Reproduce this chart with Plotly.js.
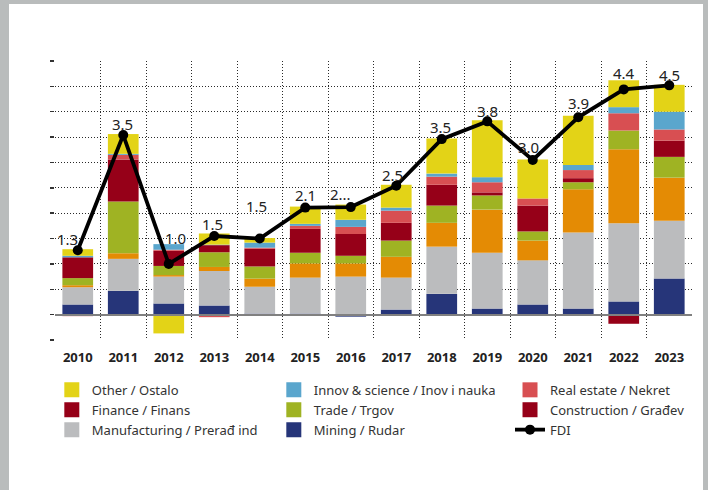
<!DOCTYPE html>
<html>
<head>
<meta charset="utf-8">
<script src="https://cdn.plot.ly/plotly-3.0.1.min.js"></script>
<style>
  html, body { margin: 0; padding: 0; background: #ffffff; }
  #wrap { position: absolute; left: 0; top: 0; width: 694px; height: 486px;
          border-left: 9px solid #b9bcbc; border-top: 4px solid #b9bcbc; border-right: 5px solid #b9bcbc; }
  #chart { width: 694px; height: 486px; }
</style>
</head>
<body>
<div id="wrap"><div id="chart"></div></div>
<script>
// ---- data (EUR bn) ----
const years = ["2010","2011","2012","2013","2014","2015","2016","2017","2018","2019","2020","2021","2022","2023"];
const mining        = [0.20, 0.47, 0.22, 0.18, 0.02, 0.02, -0.04, 0.10, 0.41, 0.12, 0.20, 0.12, 0.26, 0.71];
const manufacturing = [0.34, 0.63, 0.53, 0.68, 0.53, 0.71, 0.75, 0.63, 0.93, 1.10, 0.87, 1.50, 1.54, 1.14];
const construction  = [0.04, 0.11, 0.03, 0.08, 0.16, 0.28, 0.26, 0.41, 0.47, 0.85, 0.39, 0.85, 1.46, 0.85];
const trade         = [0.14, 1.02, 0.18, 0.29, 0.24, 0.21, 0.15, 0.32, 0.34, 0.28, 0.18, 0.14, 0.37, 0.41];
const finance       = [0.41, 0.83, 0.30, 0.14, 0.35, 0.47, 0.43, 0.35, 0.41, 0.06, 0.51, 0.08, -0.18, 0.32];
const realEstate    = [-0.03, 0.09, 0.02, -0.05, 0.02, 0.06, 0.14, 0.24, 0.16, 0.20, 0.14, 0.16, 0.34, 0.22];
const innov         = [0.03, 0.02, 0.11, 0.01, 0.10, 0.04, 0.14, 0.06, 0.06, 0.10, 0.00, 0.10, 0.12, 0.35];
const other         = [0.13, 0.39, -0.37, 0.22, 0.09, 0.34, 0.30, 0.45, 0.69, 1.12, 0.77, 0.97, 0.53, 0.53];
const fdi           = [1.27, 3.54, 1.00, 1.55, 1.50, 2.11, 2.12, 2.54, 3.46, 3.81, 3.05, 3.89, 4.44, 4.52];
const fdiLabels     = ["1.3","3.5","1.0","1.5","1.5","2.1","2...","2.5","3.5","3.8","3.0","3.9","4.4","4.5"];

// label placement offsets in pixels (style only)
const labelDx = [-10, -1, 7, -2, -3, 0, -10, -4, -1, 0, -4, 0, 0, 0];
const labelDy = [11, 11, 26, 12, 33, 13, 13, 11, 12, 10, 13, 14, 16, 10];

const FONT = "Noto Sans, Open Sans, sans-serif";

const barSeries = [
  {name: "Mining / Rudar",              y: mining,        color: "#263579"},
  {name: "Manufacturing / Prerađ ind",  y: manufacturing, color: "#bbbcbe"},
  {name: "Construction / Građev",       y: construction,  color: "#e48b04"},
  {name: "Trade / Trgov",               y: trade,         color: "#9fb323"},
  {name: "Finance / Finans",            y: finance,       color: "#960018"},
  {name: "Real estate / Nekret",        y: realEstate,    color: "#d84f52"},
  {name: "Innov & science / Inov i nauka", y: innov,      color: "#5aa6cd"},
  {name: "Other / Ostalo",              y: other,         color: "#e3d317"}
];

const traces = barSeries.map(s => ({
  type: "bar", x: years, y: s.y, name: s.name, showlegend: false,
  marker: {color: s.color, line: {width: 0}}, hoverinfo: "x+y+name"
}));

// legend swatches (as shown in the reference legend)
const legendItems = [
  {name: "Other / Ostalo", color: "#e3d317", legend: "legend"},
  {name: "Finance / Finans", color: "#960018", legend: "legend"},
  {name: "Manufacturing / Prerađ ind", color: "#bbbcbe", legend: "legend"},
  {name: "Innov & science / Inov i nauka", color: "#5aa6cd", legend: "legend2"},
  {name: "Trade / Trgov", color: "#9fb323", legend: "legend2"},
  {name: "Mining / Rudar", color: "#263579", legend: "legend2"},
  {name: "Real estate / Nekret", color: "#d84f52", legend: "legend3"},
  {name: "Construction / Građev", color: "#960018", legend: "legend3"}
];
legendItems.forEach(it => traces.push({
  type: "scatter", mode: "markers", x: [null], y: [null], name: it.name, legend: it.legend,
  marker: {symbol: "square", size: 15, color: it.color}, hoverinfo: "skip"
}));

traces.push({
  type: "scatter", mode: "lines+markers", x: years, y: fdi, name: "FDI", legend: "legend3",
  line: {color: "#000", width: 3.8}, marker: {color: "#000", size: 10},
  cliponaxis: false
});

// labels for the FDI points: x given as category index
const annotations = years.map((yr, i) => ({
  x: i, y: fdi[i], xref: "x", yref: "y", text: fdiLabels[i], showarrow: false,
  xanchor: "center", yanchor: "middle", xshift: labelDx[i], yshift: labelDy[i],
  font: {family: FONT, size: 15, color: "#222"}
}));

const legendBase = {
  orientation: "v", xanchor: "left", yanchor: "top", y: -0.125,
  font: {family: FONT, size: 13, color: "#333"}, bgcolor: "rgba(0,0,0,0)",
  tracegroupgap: 0, itemsizing: "trace", itemclick: false, itemdoubleclick: false
};

const layout = {
  width: 694, height: 486,
  margin: {l: 46, r: 11, t: 57, b: 150, autoexpand: false},
  paper_bgcolor: "#ffffff", plot_bgcolor: "#ffffff",
  barmode: "relative", bargap: 0.325,
  font: {family: FONT, color: "#222"},
  annotations: annotations,
  xaxis: {
    type: "category", categoryorder: "array", categoryarray: years,
    range: [-0.5, years.length - 0.5], autorange: false,
    tickson: "boundaries", showgrid: true,
    gridcolor: "#2a2a2a", griddash: "1px,2px", gridwidth: 1,
    ticks: "", showline: false, zeroline: false, ticklabelstandoff: 8,
    tickfont: {family: FONT, size: 13, color: "#222", weight: "bold"},
    fixedrange: true
  },
  yaxis: {
    range: [-0.5, 5.0], autorange: false, tick0: 0, dtick: 0.5, showticklabels: false,
    showgrid: true, gridcolor: "#2a2a2a", griddash: "1px,2px", gridwidth: 1,
    ticks: "outside", ticklen: 4, tickwidth: 1.5, tickcolor: "#333",
    zeroline: true, zerolinecolor: "#808080", zerolinewidth: 2, zerolinelayer: "above traces",
    showline: false, fixedrange: true
  },
  legend:  Object.assign({}, legendBase, {x: -0.005}),
  legend2: Object.assign({}, legendBase, {x: 0.3435}),
  legend3: Object.assign({}, legendBase, {x: 0.7143}),
  showlegend: true
};

Plotly.newPlot("chart", traces, layout, {displayModeBar: false, staticPlot: true});
</script>
</body>
</html>
